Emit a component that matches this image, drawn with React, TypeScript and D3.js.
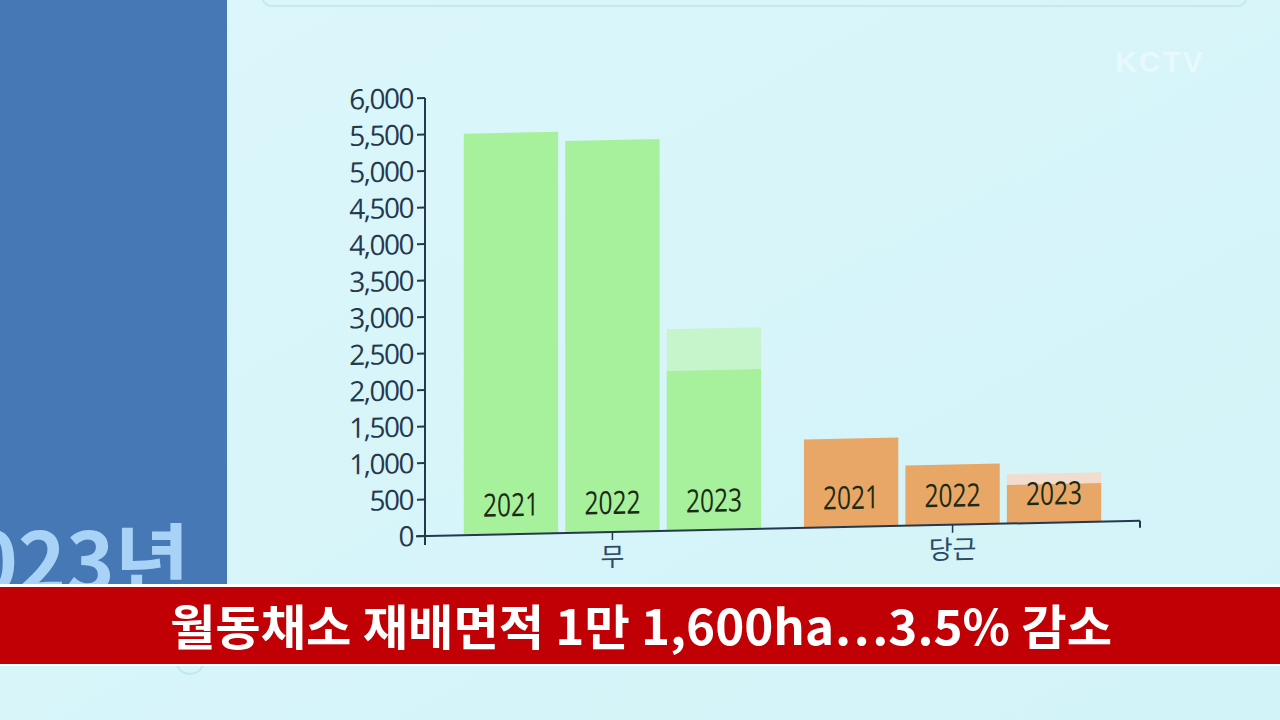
import React from "react";
import * as d3 from "d3";

const years = ["2021", "2022", "2023"];
const crops = ["무", "당근"];
const radishArea = [5500, 5370, 2190];
const radishUpper = [null, null, 2760];
const carrotArea = [1210, 825, 530];
const carrotUpper = [null, null, 675];
const yTicks = [0, 500, 1000, 1500, 2000, 2500, 3000, 3500, 4000, 4500, 5000, 5500, 6000];
const headline = "월동채소 재배면적 1만 1,600ha…3.5% 감소";

const W = 1280;
const H = 720;
const x0 = 425;
const x1 = 1140;
const yBase = 536;
const yTop = 98;

const cropColors: Record<string, string> = { "무": "#a7f19d", "당근": "#e8a766" };
const cropLight: Record<string, string> = { "무": "#c6f5cc", "당근": "#f2dccd" };

export default function App() {
  const y = d3.scaleLinear().domain([0, 6000]).range([yBase, yTop]);
  const xg = d3.scaleBand<string>().domain(crops).range([x0, x1]).paddingInner(0.126).paddingOuter(0.114);
  const xi = d3.scaleBand<string>().domain(years).range([0, xg.bandwidth()]).paddingInner(0.07);
  const values: Record<string, number[]> = { "무": radishArea, "당근": carrotArea };
  const uppers: Record<string, (number | null)[]> = { "무": radishUpper, "당근": carrotUpper };
  const axisColor = "#26384c";
  const fontNum = "'Open Sans', 'Noto Sans', sans-serif";

  return (
    <svg width={W} height={H} style={{ position: "absolute", left: 0, top: 0 }} xmlns="http://www.w3.org/2000/svg">
      <defs>
        <linearGradient id="bg" x1="0" y1="0" x2="1" y2="1">
          <stop offset="0" stopColor="#dcf7fb" />
          <stop offset="1" stopColor="#d2f3f8" />
        </linearGradient>
      </defs>
      <rect x={0} y={0} width={W} height={H} fill="url(#bg)" />
      {/* top card border */}
      <rect x={262} y={-20} width={985} height={26} rx={10} fill="none" stroke="#c8e8ee" strokeWidth={2} />
      {/* left panel */}
      <rect x={0} y={0} width={227} height={590} fill="#4678b6" />
      <text x={190} y={592} textAnchor="end" fontFamily="'Noto Sans CJK KR', sans-serif" fontWeight={700} fontSize={82} fill="#a9d3f6">2023년</text>
      <circle cx={190} cy={660} r={14} fill="none" stroke="#bfe6f2" strokeWidth={2} />
      {/* watermark */}
      <text x={1160} y={72} textAnchor="middle" fontFamily="'Liberation Sans', sans-serif" fontWeight={700} fontSize={30} fill="#ffffff" opacity={0.4} letterSpacing={2}>KCTV</text>

      <g transform={`translate(${x0},${yBase}) skewY(-1.22) translate(${-x0},${-yBase})`}>
        {/* bars */}
        {crops.map((c) => (
          <g key={c} transform={`translate(${xg(c)},0)`}>
            {years.map((yr, i) => {
              const v = values[c][i];
              const u = uppers[c][i];
              const bx = xi(yr)!;
              return (
                <g key={yr}>
                  {u != null && (
                    <rect x={bx} y={y(u)} width={xi.bandwidth()} height={y(v) - y(u)} fill={cropLight[c]} />
                  )}
                  <rect x={bx} y={y(v)} width={xi.bandwidth()} height={yBase - y(v)} fill={cropColors[c]} />
                  <text x={bx + xi.bandwidth() / 2} y={yBase - 18} textAnchor="middle" fontFamily={fontNum} fontSize={32} textLength={56} lengthAdjust="spacingAndGlyphs" fill="#1c2a14">{yr}</text>
                </g>
              );
            })}
          </g>
        ))}
        {/* y axis */}
        <line x1={x0} x2={x0} y1={yTop} y2={yBase + 9} stroke={axisColor} strokeWidth={2} />
        {yTicks.map((t) => (
          <g key={t}>
            <line x1={x0 - 8} x2={x0} y1={y(t)} y2={y(t)} stroke={axisColor} strokeWidth={2} />
            <text x={x0 - 12} y={y(t) + 10} textAnchor="end" fontFamily={fontNum} fontSize={28} letterSpacing={-1.5} fill={axisColor}>{d3.format(",")(t)}</text>
          </g>
        ))}
        {/* x axis */}
        <line x1={x0 - 9} x2={x1} y1={yBase} y2={yBase} stroke={axisColor} strokeWidth={2} />
        <line x1={x1} x2={x1} y1={yBase} y2={yBase + 7} stroke={axisColor} strokeWidth={2} />
        {crops.map((c) => {
          const cx = xg(c)! + xg.bandwidth() / 2;
          return (
            <g key={c}>
              <line x1={cx} x2={cx} y1={yBase} y2={yBase + 8} stroke={axisColor} strokeWidth={1.5} />
              <text x={cx} y={yBase + 34} textAnchor="middle" fontFamily="'Noto Sans CJK KR', sans-serif" fontSize={26} fill="#2c4a66">{c}</text>
            </g>
          );
        })}
      </g>

      {/* ribbon */}
      <rect x={0} y={584} width={W} height={82} fill="#ffffff" />
      <rect x={0} y={587} width={W} height={77} fill="#c00004" />
      <text x={641} y={645} textAnchor="middle" fontFamily="'Noto Sans CJK KR', sans-serif" fontWeight={700} fontSize={48} textLength={942} lengthAdjust="spacingAndGlyphs" fill="#ffffff">{headline}</text>
    </svg>
  );
}
